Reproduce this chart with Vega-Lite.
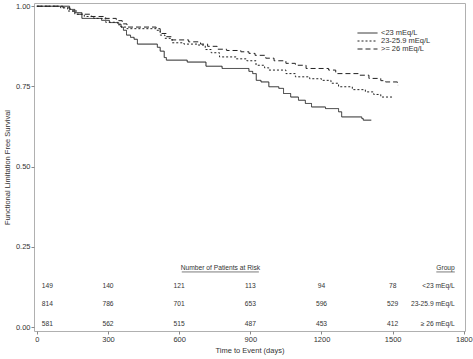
{
  "$schema": "https://vega.github.io/schema/vega-lite/v6.json",
  "width": 431,
  "height": 328,
  "autosize": "none",
  "padding": {"left": 34, "top": 3, "right": 8, "bottom": 28},
  "background": "white",
  "config": {
    "font": "Liberation Sans",
    "view": {"stroke": "#b0b0b0", "strokeWidth": 1},
    "axis": {"domain": false, "grid": false, "tickColor": "#888", "tickSize": 3, "labelFontSize": 7.5, "labelColor": "#333", "titleFontSize": 7.5, "titleFontWeight": "normal", "titleColor": "#333"},
    "text": {"font": "Liberation Sans", "color": "#333"}
  },
  "datasets": {
    "km": [
      {"group": "<23 mEq/L", "t": 0, "s": 1.0},
      {"group": "<23 mEq/L", "t": 138, "s": 0.99},
      {"group": "<23 mEq/L", "t": 160, "s": 0.98},
      {"group": "<23 mEq/L", "t": 190, "s": 0.962},
      {"group": "<23 mEq/L", "t": 273, "s": 0.956},
      {"group": "<23 mEq/L", "t": 306, "s": 0.949},
      {"group": "<23 mEq/L", "t": 345, "s": 0.944},
      {"group": "<23 mEq/L", "t": 355, "s": 0.935},
      {"group": "<23 mEq/L", "t": 365, "s": 0.925},
      {"group": "<23 mEq/L", "t": 378, "s": 0.91},
      {"group": "<23 mEq/L", "t": 395, "s": 0.903},
      {"group": "<23 mEq/L", "t": 410, "s": 0.897},
      {"group": "<23 mEq/L", "t": 424, "s": 0.882},
      {"group": "<23 mEq/L", "t": 508, "s": 0.872},
      {"group": "<23 mEq/L", "t": 520, "s": 0.86},
      {"group": "<23 mEq/L", "t": 537, "s": 0.84},
      {"group": "<23 mEq/L", "t": 546, "s": 0.832},
      {"group": "<23 mEq/L", "t": 634, "s": 0.826},
      {"group": "<23 mEq/L", "t": 713, "s": 0.813},
      {"group": "<23 mEq/L", "t": 781, "s": 0.806},
      {"group": "<23 mEq/L", "t": 894, "s": 0.797},
      {"group": "<23 mEq/L", "t": 910, "s": 0.79},
      {"group": "<23 mEq/L", "t": 925, "s": 0.769},
      {"group": "<23 mEq/L", "t": 945, "s": 0.764},
      {"group": "<23 mEq/L", "t": 978, "s": 0.749},
      {"group": "<23 mEq/L", "t": 1020, "s": 0.744},
      {"group": "<23 mEq/L", "t": 1040, "s": 0.728},
      {"group": "<23 mEq/L", "t": 1070, "s": 0.717},
      {"group": "<23 mEq/L", "t": 1103, "s": 0.707},
      {"group": "<23 mEq/L", "t": 1132, "s": 0.697},
      {"group": "<23 mEq/L", "t": 1158, "s": 0.686},
      {"group": "<23 mEq/L", "t": 1217, "s": 0.681},
      {"group": "<23 mEq/L", "t": 1272, "s": 0.671},
      {"group": "<23 mEq/L", "t": 1285, "s": 0.655},
      {"group": "<23 mEq/L", "t": 1370, "s": 0.65},
      {"group": "<23 mEq/L", "t": 1376, "s": 0.645},
      {"group": "<23 mEq/L", "t": 1410, "s": 0.645},
      {"group": "23-25.9 mEq/L", "t": 0, "s": 1.0},
      {"group": "23-25.9 mEq/L", "t": 100, "s": 0.995},
      {"group": "23-25.9 mEq/L", "t": 130, "s": 0.985},
      {"group": "23-25.9 mEq/L", "t": 160, "s": 0.975},
      {"group": "23-25.9 mEq/L", "t": 200, "s": 0.968},
      {"group": "23-25.9 mEq/L", "t": 240, "s": 0.962},
      {"group": "23-25.9 mEq/L", "t": 290, "s": 0.95},
      {"group": "23-25.9 mEq/L", "t": 340, "s": 0.942},
      {"group": "23-25.9 mEq/L", "t": 355, "s": 0.935},
      {"group": "23-25.9 mEq/L", "t": 380, "s": 0.93},
      {"group": "23-25.9 mEq/L", "t": 503, "s": 0.925},
      {"group": "23-25.9 mEq/L", "t": 520, "s": 0.91},
      {"group": "23-25.9 mEq/L", "t": 540, "s": 0.9},
      {"group": "23-25.9 mEq/L", "t": 570, "s": 0.886},
      {"group": "23-25.9 mEq/L", "t": 620, "s": 0.882},
      {"group": "23-25.9 mEq/L", "t": 680, "s": 0.879},
      {"group": "23-25.9 mEq/L", "t": 710, "s": 0.865},
      {"group": "23-25.9 mEq/L", "t": 735, "s": 0.855},
      {"group": "23-25.9 mEq/L", "t": 770, "s": 0.842},
      {"group": "23-25.9 mEq/L", "t": 840, "s": 0.836},
      {"group": "23-25.9 mEq/L", "t": 885, "s": 0.83},
      {"group": "23-25.9 mEq/L", "t": 924, "s": 0.816},
      {"group": "23-25.9 mEq/L", "t": 960, "s": 0.808},
      {"group": "23-25.9 mEq/L", "t": 978, "s": 0.801},
      {"group": "23-25.9 mEq/L", "t": 1050, "s": 0.79},
      {"group": "23-25.9 mEq/L", "t": 1090, "s": 0.78},
      {"group": "23-25.9 mEq/L", "t": 1150, "s": 0.774},
      {"group": "23-25.9 mEq/L", "t": 1200, "s": 0.769},
      {"group": "23-25.9 mEq/L", "t": 1240, "s": 0.76},
      {"group": "23-25.9 mEq/L", "t": 1272, "s": 0.749},
      {"group": "23-25.9 mEq/L", "t": 1330, "s": 0.74},
      {"group": "23-25.9 mEq/L", "t": 1385, "s": 0.733},
      {"group": "23-25.9 mEq/L", "t": 1420, "s": 0.725},
      {"group": "23-25.9 mEq/L", "t": 1450, "s": 0.717},
      {"group": "23-25.9 mEq/L", "t": 1498, "s": 0.716},
      {"group": ">= 26 mEq/L", "t": 0, "s": 1.0},
      {"group": ">= 26 mEq/L", "t": 110, "s": 0.995},
      {"group": ">= 26 mEq/L", "t": 140, "s": 0.985},
      {"group": ">= 26 mEq/L", "t": 170, "s": 0.975},
      {"group": ">= 26 mEq/L", "t": 230, "s": 0.968},
      {"group": ">= 26 mEq/L", "t": 290, "s": 0.962},
      {"group": ">= 26 mEq/L", "t": 335, "s": 0.955},
      {"group": ">= 26 mEq/L", "t": 360, "s": 0.945},
      {"group": ">= 26 mEq/L", "t": 380, "s": 0.935},
      {"group": ">= 26 mEq/L", "t": 503, "s": 0.93},
      {"group": ">= 26 mEq/L", "t": 520, "s": 0.915},
      {"group": ">= 26 mEq/L", "t": 545, "s": 0.905},
      {"group": ">= 26 mEq/L", "t": 570, "s": 0.895},
      {"group": ">= 26 mEq/L", "t": 640, "s": 0.889},
      {"group": ">= 26 mEq/L", "t": 690, "s": 0.882},
      {"group": ">= 26 mEq/L", "t": 720, "s": 0.875},
      {"group": ">= 26 mEq/L", "t": 760, "s": 0.866},
      {"group": ">= 26 mEq/L", "t": 800, "s": 0.862},
      {"group": ">= 26 mEq/L", "t": 860, "s": 0.858},
      {"group": ">= 26 mEq/L", "t": 894, "s": 0.853},
      {"group": ">= 26 mEq/L", "t": 920, "s": 0.847},
      {"group": ">= 26 mEq/L", "t": 965, "s": 0.838},
      {"group": ">= 26 mEq/L", "t": 1000, "s": 0.83},
      {"group": ">= 26 mEq/L", "t": 1050, "s": 0.822},
      {"group": ">= 26 mEq/L", "t": 1090, "s": 0.816},
      {"group": ">= 26 mEq/L", "t": 1135, "s": 0.806},
      {"group": ">= 26 mEq/L", "t": 1230, "s": 0.801},
      {"group": ">= 26 mEq/L", "t": 1260, "s": 0.79},
      {"group": ">= 26 mEq/L", "t": 1355, "s": 0.785},
      {"group": ">= 26 mEq/L", "t": 1400, "s": 0.775},
      {"group": ">= 26 mEq/L", "t": 1450, "s": 0.768},
      {"group": ">= 26 mEq/L", "t": 1470, "s": 0.764},
      {"group": ">= 26 mEq/L", "t": 1520, "s": 0.754},
      {"group": ">= 26 mEq/L", "t": 1523, "s": 0.754}
    ],
    "risk": [
      {"group": "<23 mEq/L", "time": 0, "n": 149},
      {"group": "<23 mEq/L", "time": 300, "n": 140},
      {"group": "<23 mEq/L", "time": 600, "n": 121},
      {"group": "<23 mEq/L", "time": 900, "n": 113},
      {"group": "<23 mEq/L", "time": 1200, "n": 94},
      {"group": "<23 mEq/L", "time": 1500, "n": 78},
      {"group": "23-25.9 mEq/L", "time": 0, "n": 814},
      {"group": "23-25.9 mEq/L", "time": 300, "n": 786},
      {"group": "23-25.9 mEq/L", "time": 600, "n": 701},
      {"group": "23-25.9 mEq/L", "time": 900, "n": 653},
      {"group": "23-25.9 mEq/L", "time": 1200, "n": 596},
      {"group": "23-25.9 mEq/L", "time": 1500, "n": 529},
      {"group": "≥ 26 mEq/L", "time": 0, "n": 581},
      {"group": "≥ 26 mEq/L", "time": 300, "n": 562},
      {"group": "≥ 26 mEq/L", "time": 600, "n": 515},
      {"group": "≥ 26 mEq/L", "time": 900, "n": 487},
      {"group": "≥ 26 mEq/L", "time": 1200, "n": 453},
      {"group": "≥ 26 mEq/L", "time": 1500, "n": 412}
    ]
  },
  "layer": [
    {
      "data": {"name": "km"},
      "mark": {"type": "line", "interpolate": "step-after", "strokeWidth": 1, "color": "#222"},
      "encoding": {
        "x": {"field": "t", "type": "quantitative", "scale": {"domain": [-12, 1805], "nice": false, "zero": false},
              "axis": {"values": [0, 300, 600, 900, 1200, 1500, 1800], "format": "d", "labelPadding": 1, "labelOverlap": false, "labelFlush": false, "title": "Time to Event (days)", "titlePadding": 4}},
        "y": {"field": "s", "type": "quantitative", "scale": {"domain": [-0.012, 1.01], "nice": false, "zero": false},
              "axis": {"values": [0, 0.25, 0.5, 0.75, 1], "format": ".2f",
                       "labelOverlap": false, "labelFlush": false,
                       "labelPadding": 1, "title": "Functional Limitation Free Survival", "titlePadding": 4}},
        "strokeDash": {"field": "group", "type": "nominal",
          "scale": {"domain": ["<23 mEq/L", "23-25.9 mEq/L", ">= 26 mEq/L"], "range": [[1, 0], [2, 2], [5, 3]]},
          "legend": {"title": null, "orient": "none", "legendX": 323, "legendY": 26, "symbolType": "stroke", "symbolSize": 400,
                     "symbolStrokeWidth": 1, "symbolStrokeColor": "#222", "labelFontSize": 7.5, "labelColor": "#333", "labelOffset": 3,
                     "rowPadding": 0, "clipHeight": 8, "padding": 0}},
        "detail": {"field": "group"}
      }
    },
    {
      "data": {"name": "risk"},
      "transform": [{"filter": "datum.group == '<23 mEq/L'"}],
      "encoding": {"y": {"datum": 0.128, "type": "quantitative"}},
      "layer": [
        {"transform": [{"filter": "datum.time > 0"}], "mark": {"type": "text", "fontSize": 6.7, "align": "center", "baseline": "middle"},
         "encoding": {"x": {"field": "time", "type": "quantitative"}, "text": {"field": "n"}}},
        {"transform": [{"filter": "datum.time == 0"}], "mark": {"type": "text", "fontSize": 6.7, "align": "left", "baseline": "middle", "dx": 5},
         "encoding": {"x": {"field": "time", "type": "quantitative"}, "text": {"field": "n"}}},
        {"transform": [{"filter": "datum.time == 0"}], "mark": {"type": "text", "fontSize": 6.7, "align": "right", "baseline": "middle"},
         "encoding": {"x": {"datum": 1762, "type": "quantitative"}, "text": {"field": "group"}}}
      ]
    },
    {
      "data": {"name": "risk"},
      "transform": [{"filter": "datum.group == '23-25.9 mEq/L'"}],
      "encoding": {"y": {"datum": 0.071, "type": "quantitative"}},
      "layer": [
        {"transform": [{"filter": "datum.time > 0"}], "mark": {"type": "text", "fontSize": 6.7, "align": "center", "baseline": "middle"},
         "encoding": {"x": {"field": "time", "type": "quantitative"}, "text": {"field": "n"}}},
        {"transform": [{"filter": "datum.time == 0"}], "mark": {"type": "text", "fontSize": 6.7, "align": "left", "baseline": "middle", "dx": 5},
         "encoding": {"x": {"field": "time", "type": "quantitative"}, "text": {"field": "n"}}},
        {"transform": [{"filter": "datum.time == 0"}], "mark": {"type": "text", "fontSize": 6.7, "align": "right", "baseline": "middle"},
         "encoding": {"x": {"datum": 1762, "type": "quantitative"}, "text": {"field": "group"}}}
      ]
    },
    {
      "data": {"name": "risk"},
      "transform": [{"filter": "datum.group == '≥ 26 mEq/L'"}],
      "encoding": {"y": {"datum": 0.01, "type": "quantitative"}},
      "layer": [
        {"transform": [{"filter": "datum.time > 0"}], "mark": {"type": "text", "fontSize": 6.7, "align": "center", "baseline": "middle"},
         "encoding": {"x": {"field": "time", "type": "quantitative"}, "text": {"field": "n"}}},
        {"transform": [{"filter": "datum.time == 0"}], "mark": {"type": "text", "fontSize": 6.7, "align": "left", "baseline": "middle", "dx": 5},
         "encoding": {"x": {"field": "time", "type": "quantitative"}, "text": {"field": "n"}}},
        {"transform": [{"filter": "datum.time == 0"}], "mark": {"type": "text", "fontSize": 6.7, "align": "right", "baseline": "middle"},
         "encoding": {"x": {"datum": 1762, "type": "quantitative"}, "text": {"field": "group"}}}
      ]
    },
    {
      "data": {"values": [{}]},
      "layer": [
        {"mark": {"type": "text", "fontSize": 6.7, "align": "center", "baseline": "middle"},
         "encoding": {"x": {"datum": 774, "type": "quantitative"}, "y": {"datum": 0.184, "type": "quantitative"}, "text": {"value": "Number of Patients at Risk"}}},
        {"mark": {"type": "rule", "strokeWidth": 0.7, "color": "#444"},
         "encoding": {"x": {"datum": 611, "type": "quantitative"}, "x2": {"datum": 936}, "y": {"datum": 0.172, "type": "quantitative"}}},
        {"mark": {"type": "text", "fontSize": 6.7, "align": "right", "baseline": "middle"},
         "encoding": {"x": {"datum": 1762, "type": "quantitative"}, "y": {"datum": 0.184, "type": "quantitative"}, "text": {"value": "Group"}}},
        {"mark": {"type": "rule", "strokeWidth": 0.7, "color": "#444"},
         "encoding": {"x": {"datum": 1684, "type": "quantitative"}, "x2": {"datum": 1762}, "y": {"datum": 0.172, "type": "quantitative"}}}
      ]
    }
  ]
}
